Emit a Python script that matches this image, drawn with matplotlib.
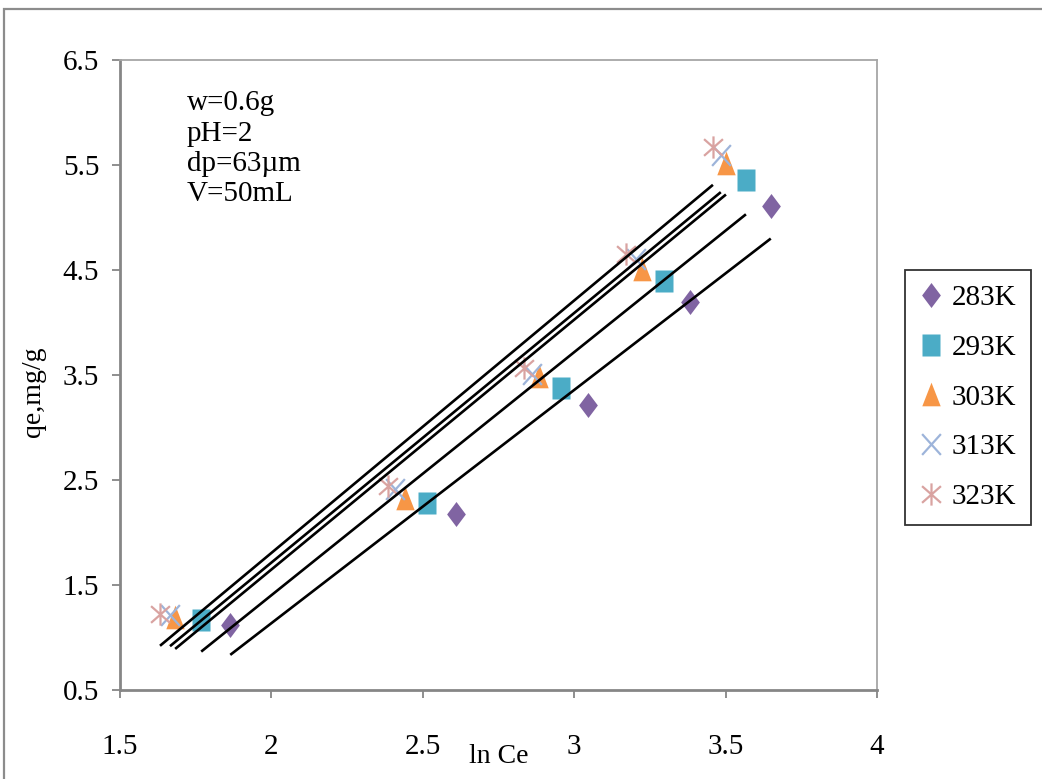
import matplotlib.pyplot as plt
import numpy as np
from matplotlib.path import Path
from matplotlib.patches import Rectangle

plt.rcParams['font.family'] = ['Liberation Serif', 'DejaVu Serif']

# ln Ce vs qe for each temperature
labels = ['283K', '293K', '303K', '313K', '323K']
x_283 = [1.864, 2.611, 3.044, 3.382, 3.649]
y_283 = [1.121, 2.172, 3.213, 4.198, 5.105]
x_293 = [1.768, 2.515, 2.955, 3.296, 3.567]
y_293 = [1.169, 2.277, 3.376, 4.398, 5.354]
x_303 = [1.682, 2.442, 2.882, 3.225, 3.501]
y_303 = [1.198, 2.325, 3.491, 4.513, 5.516]
x_313 = [1.665, 2.409, 2.862, 3.203, 3.484]
y_313 = [1.217, 2.411, 3.510, 4.608, 5.592]
x_323 = [1.632, 2.386, 2.833, 3.170, 3.458]
y_323 = [1.226, 2.440, 3.567, 4.656, 5.669]

# linear trendlines (qe = a*lnCe + b)
slopes = [2.221, 2.315, 2.379, 2.377, 2.404]
intercepts = [-3.305, -3.227, -3.110, -3.040, -3.002]

xs = [x_283, x_293, x_303, x_313, x_323]
ys = [y_283, y_293, y_303, y_313, y_323]

colors = ['#8064A2', '#4BACC6', '#F79646', '#9DB4DA', '#D9A3A1']

diamond = [(0, 1), (0.75, 0), (0, -1), (-0.75, 0), (0, 1)]
square = [(-0.82, -1), (0.82, -1), (0.82, 1), (-0.82, 1), (-0.82, -1)]
triangle = [(0, 1), (0.78, -1), (-0.78, -1), (0, 1)]
cross = Path([(-0.9, -1), (0.9, 1), (-0.9, 1), (0.9, -1)],
             [Path.MOVETO, Path.LINETO, Path.MOVETO, Path.LINETO])
star = Path([(-0.85, -0.75), (0.85, 0.75), (-0.85, 0.75), (0.85, -0.75), (0, -1), (0, 1)],
            [Path.MOVETO, Path.LINETO, Path.MOVETO, Path.LINETO, Path.MOVETO, Path.LINETO])

styles = [
    dict(marker=diamond, ms=18, mec='none'),
    dict(marker=square, ms=16, mec='none'),
    dict(marker=triangle, ms=17, mec='none'),
    dict(marker=cross, ms=15, mfc='none', mew=1.6),
    dict(marker=star, ms=16, mfc='none', mew=1.6),
]

fig = plt.figure(figsize=(10.42, 7.79), dpi=100)
ax = fig.add_axes([0.1152, 0.1142, 0.7265, 0.8088])

for xv, yv, lab, c, st in zip(xs, ys, labels, colors, styles):
    kw = dict(st)
    kw.setdefault('mfc', c)
    if kw.get('mec') != 'none':
        kw['mec'] = c
    ax.plot(xv, yv, linestyle='none', label=lab, color=c, **kw)

for xv, a, b in zip(xs, slopes, intercepts):
    xl = np.array([min(xv), max(xv)])
    ax.plot(xl, a * xl + b, color='black', lw=1.9, solid_capstyle='butt')

ax.set_xlim(1.5, 4)
ax.set_ylim(0.5, 6.5)
ax.set_xticks([1.5, 2, 2.5, 3, 3.5, 4])
ax.set_xticklabels(['1.5', '2', '2.5', '3', '3.5', '4'])
ax.set_yticks([0.5, 1.5, 2.5, 3.5, 4.5, 5.5, 6.5])
ax.tick_params(axis='both', direction='out', length=6, width=1.3, color='#868686',
               labelsize=21)
ax.tick_params(axis='x', pad=26)
ax.tick_params(axis='y', pad=9)

for side in ['left', 'bottom']:
    ax.spines[side].set_color('#868686')
    ax.spines[side].set_linewidth(2.0)
for side in ['top', 'right']:
    ax.spines[side].set_color('#A6A6A6')
    ax.spines[side].set_linewidth(1.3)

ax.set_xlabel('ln Ce', fontsize=20)
ax.xaxis.set_label_coords(0.5, -0.086)
ax.set_ylabel('qe,mg/g', fontsize=20)
ax.yaxis.set_label_coords(-0.098, 0.473)

ax.text(0.088, 0.952, 'w=0.6g\npH=2\ndp=63\u00b5m\nV=50mL', transform=ax.transAxes,
        fontsize=21, va='top', ha='left', linespacing=1.22)

leg = fig.legend(loc='upper left', bbox_to_anchor=(0.8685, 0.6534), fontsize=21,
                 frameon=True, fancybox=False, edgecolor='black', borderaxespad=0,
                 handlelength=0.8, handletextpad=0.3, labelspacing=0.8,
                 borderpad=0.5, numpoints=1)
leg.get_frame().set_linewidth(1.3)

# outer chart border
fig.add_artist(Rectangle((0.004, -0.2), 1.5, 1.188, transform=fig.transFigure,
                         fill=False, edgecolor='#8c8c8c', lw=1.6, clip_on=False))

fig.savefig('out.png', dpi=100)
